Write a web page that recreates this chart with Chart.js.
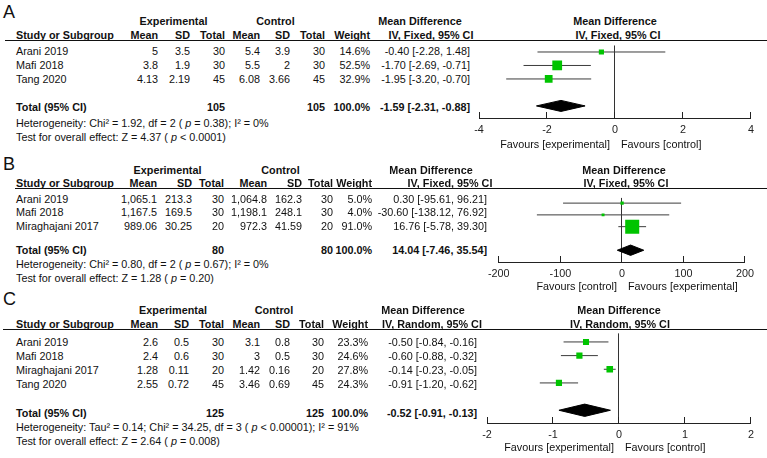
<!DOCTYPE html>
<html><head><meta charset="utf-8">
<script src="https://cdn.jsdelivr.net/npm/chart.js@4.4.0/dist/chart.umd.min.js"></script>
<style>
html,body{margin:0;padding:0;background:#fff;overflow:hidden;}
#fig{position:relative;width:767px;height:458px;font-family:"Liberation Sans",Arial,sans-serif;color:#111;}
.t{position:absolute;white-space:nowrap;font-size:10.8px;line-height:10.8px;}
.b{font-weight:bold;}
.hl{position:absolute;height:1px;background:#111;}
canvas{position:absolute;}
</style></head><body><div id="fig"></div>
<script>
// ---------- DATA ----------
// Panel A
const studiesA = ['Arani 2019', 'Mafi 2018', 'Tang 2020'];
const expMeanA = [5, 3.8, 4.13];
const expSDA = [3.5, 1.9, 2.19];
const expNA = [30, 30, 45];
const ctlMeanA = [5.4, 5.5, 6.08];
const ctlSDA = [3.9, 2, 3.66];
const ctlNA = [30, 30, 45];
const weightA = [14.6, 52.5, 32.9];
const mdA = [-0.40, -1.70, -1.95];
const loA = [-2.28, -2.69, -3.20];
const hiA = [1.48, -0.71, -0.70];
const totalA = [-1.59, -2.31, -0.88];
const totalNA = [105, 105];
const ticksA = [-4, -2, 0, 2, 4];
const hetA = 'Heterogeneity: Chi² = 1.92, df = 2 ( <i>p</i> = 0.38); I² = 0%';
const testA = 'Test for overall effect: Z = 4.37 ( <i>p</i> &lt; 0.0001)';
const methodA = 'IV, Fixed, 95% CI';
const favA = ['Favours [experimental]', 'Favours [control]'];

// Panel B
const studiesB = ['Arani 2019', 'Mafi 2018', 'Miraghajani 2017'];
const expMeanB = [1065.1, 1167.5, 989.06];
const expSDB = [213.3, 169.5, 30.25];
const expNB = [30, 30, 20];
const ctlMeanB = [1064.8, 1198.1, 972.3];
const ctlSDB = [162.3, 248.1, 41.59];
const ctlNB = [30, 30, 20];
const weightB = [5.0, 4.0, 91.0];
const mdB = [0.30, -30.60, 16.76];
const loB = [-95.61, -138.12, -5.78];
const hiB = [96.21, 76.92, 39.30];
const totalB = [14.04, -7.46, 35.54];
const totalNB = [80, 80];
const ticksB = [-200, -100, 0, 100, 200];
const hetB = 'Heterogeneity: Chi² = 0.80, df = 2 ( <i>p</i> = 0.67); I² = 0%';
const testB = 'Test for overall effect: Z = 1.28 ( <i>p</i> = 0.20)';
const methodB = 'IV, Fixed, 95% CI';
const favB = ['Favours [control]', 'Favours [experimental]'];

// Panel C
const studiesC = ['Arani 2019', 'Mafi 2018', 'Miraghajani 2017', 'Tang 2020'];
const expMeanC = [2.6, 2.4, 1.28, 2.55];
const expSDC = [0.5, 0.6, 0.11, 0.72];
const expNC = [30, 30, 20, 45];
const ctlMeanC = [3.1, 3, 1.42, 3.46];
const ctlSDC = [0.8, 0.5, 0.16, 0.69];
const ctlNC = [30, 30, 20, 45];
const weightC = [23.3, 24.6, 27.8, 24.3];
const mdC = [-0.50, -0.60, -0.14, -0.91];
const loC = [-0.84, -0.88, -0.23, -1.20];
const hiC = [-0.16, -0.32, -0.05, -0.62];
const totalC = [-0.52, -0.91, -0.13];
const totalNC = [125, 125];
const ticksC = [-2, -1, 0, 1, 2];
const hetC = 'Heterogeneity: Tau² = 0.14; Chi² = 34.25, df = 3 ( <i>p</i> &lt; 0.00001); I² = 91%';
const testC = 'Test for overall effect: Z = 2.64 ( <i>p</i> = 0.008)';
const methodC = 'IV, Random, 95% CI';
const favC = ['Favours [experimental]', 'Favours [control]'];

// ---------- HELPERS ----------
const fig = document.getElementById('fig');
function txt(x, y, s, align, bold, size) {
  const fs = size || 10.8;
  const d = document.createElement('div');
  d.className = 't' + (bold ? ' b' : '');
  d.innerHTML = s;
  d.style.fontSize = fs + 'px';
  d.style.lineHeight = fs + 'px';
  d.style.top = (y - fs / 2) + 'px';
  d.style.left = x + 'px';
  if (align === 'r') d.style.transform = 'translateX(-100%)';
  else if (align === 'c') d.style.transform = 'translateX(-50%)';
  fig.appendChild(d);
}
function hline(x0, y, x1) {
  const d = document.createElement('div');
  d.className = 'hl';
  d.style.left = x0 + 'px'; d.style.top = y + 'px'; d.style.width = (x1 - x0) + 'px';
  fig.appendChild(d);
}
const fmt = v => v.toLocaleString('en-US', { maximumFractionDigits: 2 });
const pct = v => v.toFixed(1) + '%';
const ci = (m, l, h) => `${m.toFixed(2)} [${l.toFixed(2)}, ${h.toFixed(2)}]`;

function panel(letter, D, L) {
  txt(3, L.letterY, letter, 'l', false, 18);
  txt(L.expC, L.grpY, 'Experimental', 'c', true);
  txt(L.ctlC, L.grpY, 'Control', 'c', true);
  txt(L.mdHC, L.grpY, 'Mean Difference', 'c', true);
  txt(L.plotMdC, L.grpY, 'Mean Difference', 'c', true);
  txt(16, L.hdrY, 'Study or Subgroup', 'l', true);
  const hdrs = ['Mean', 'SD', 'Total', 'Mean', 'SD', 'Total', 'Weight'];
  hdrs.forEach((h, i) => txt(L.cols[i], L.hdrY, h, 'r', true));
  txt(L.ivHC, L.hdrY, D.method, 'c', true);
  txt(L.plotIvC, L.hdrY, D.method, 'c', true);
  hline(L.lineX0, L.lineY, 767);
  D.studies.forEach((s, i) => {
    const y = L.rowsY[i];
    txt(16, y, s, 'l');
    const vals = [fmt(D.em[i]), fmt(D.esd[i]), String(D.en[i]), fmt(D.cm[i]), fmt(D.csd[i]), String(D.cn[i]), pct(D.w[i])];
    vals.forEach((v, j) => txt(L.cols[j], y, v, 'r'));
    txt(L.mdR, y, ci(D.md[i], D.lo[i], D.hi[i]), 'r');
  });
  txt(16, L.totY, 'Total (95% CI)', 'l', true);
  txt(L.cols[2], L.totY, String(D.totN[0]), 'r', true);
  txt(L.cols[5], L.totY, String(D.totN[1]), 'r', true);
  txt(L.cols[6], L.totY, pct(D.w.reduce((a, b) => a + b, 0)), 'r', true);
  txt(L.mdR, L.totY, ci(D.tot[0], D.tot[1], D.tot[2]), 'r', true);
  txt(16, L.hetY, D.het, 'l');
  txt(16, L.testY, D.test, 'l');

  // chart
  const cv = document.createElement('canvas');
  cv.width = L.cw; cv.height = L.ch;
  cv.style.left = L.cx + 'px'; cv.style.top = L.cy + 'px';
  fig.appendChild(cv);
  const ds = [];
  D.md.forEach((m, i) => {
    ds.push({ type: 'line', data: [{ x: D.lo[i], y: i + 1 }, { x: D.hi[i], y: i + 1 }],
      borderColor: '#3c3c3c', borderWidth: 1, pointRadius: 0, fill: false, order: 2 });
  });
  ds.push({ type: 'line', showLine: false, data: D.md.map((m, i) => ({ x: m, y: i + 1 })),
    pointStyle: 'rect', pointRadius: D.w.map(w => L.sq * Math.sqrt(w) / 1.414),
    pointBackgroundColor: '#00c400', pointBorderColor: '#00c400', pointBorderWidth: 0, order: 1 });
  const tr = D.md.length + 2;
  ds.push({ type: 'line', data: [
      { x: D.tot[1], y: tr }, { x: D.tot[0], y: tr - L.dh }, { x: D.tot[2], y: tr },
      { x: D.tot[0], y: tr + L.dh }, { x: D.tot[1], y: tr }],
    fill: 'shape', backgroundColor: '#000', borderColor: '#000', borderWidth: 1, pointRadius: 0, order: 0 });
  const ticks = D.ticks;
  const chart = new Chart(cv, {
    type: 'line',
    data: { datasets: ds },
    options: {
      responsive: false, animation: false, devicePixelRatio: 1,
      layout: { padding: { left: 20, right: L.padR, top: 0, bottom: 0 } },
      plugins: { legend: { display: false }, tooltip: { enabled: false } },
      events: [],
      scales: {
        x: {
          type: 'linear', min: ticks[0], max: ticks[ticks.length - 1],
          afterBuildTicks: s => { s.ticks = ticks.map(v => ({ value: v })); },
          afterFit: s => { s.height = 30; },
          grid: { color: c => (c.tick && c.tick.value === 0) ? '#333' : 'rgba(0,0,0,0)',
                  tickColor: '#222', tickLength: -6, drawTicks: true, lineWidth: 1 },
          border: { display: true, color: '#222', width: 1 },
          ticks: { padding: 12, color: '#222', maxRotation: 0, autoSkip: false,
                   font: { family: '"Liberation Sans", Arial, sans-serif', size: 10.8 } }
        },
        y: { type: 'linear', display: false, reverse: true, min: L.ymin, max: L.ymax }
      }
    }
  });
  const z = L.cx + chart.scales.x.getPixelForValue(0);
  txt(z - 5, L.favY, D.fav[0], 'r');
  txt(z + 6, L.favY, D.fav[1], 'l');
}

panel('A', { studies: studiesA, em: expMeanA, esd: expSDA, en: expNA, cm: ctlMeanA, csd: ctlSDA, cn: ctlNA,
  w: weightA, md: mdA, lo: loA, hi: hiA, tot: totalA, totN: totalNA, ticks: ticksA, het: hetA, test: testA,
  method: methodA, fav: favA },
  { letterY: 11.5, grpY: 21, hdrY: 35, lineY: 40, lineX0: 5, rowsY: [51, 65, 79], totY: 107, hetY: 123, testY: 137,
    cols: [158, 190, 225, 260, 290, 325, 370], mdR: 470, expC: 173.5, ctlC: 275.5, mdHC: 420, ivHC: 431,
    plotMdC: 615, plotIvC: 618, cx: 459, cy: 40, cw: 307, ch: 108, padR: 14,
    ymin: 0.517, ymax: 5.896, dh: 0.41, sq: 1.35, favY: 144 });

panel('B', { studies: studiesB, em: expMeanB, esd: expSDB, en: expNB, cm: ctlMeanB, csd: ctlSDB, cn: ctlNB,
  w: weightB, md: mdB, lo: loB, hi: hiB, tot: totalB, totN: totalNB, ticks: ticksB, het: hetB, test: testB,
  method: methodB, fav: favB },
  { letterY: 163.5, grpY: 170, hdrY: 183, lineY: 188, lineX0: 15, rowsY: [199, 212.5, 226], totY: 250, hetY: 264, testY: 278,
    cols: [157, 192, 224, 267, 302, 333, 372], mdR: 487, expC: 167.5, ctlC: 280.5, mdHC: 431, ivHC: 450,
    plotMdC: 624, plotIvC: 626, cx: 476, cy: 188, cw: 290, ch: 104, padR: 13,
    ymin: 0.559, ymax: 6.0, dh: 0.44, sq: 1.47, favY: 286 });

panel('C', { studies: studiesC, em: expMeanC, esd: expSDC, en: expNC, cm: ctlMeanC, csd: ctlSDC, cn: ctlNC,
  w: weightC, md: mdC, lo: loC, hi: hiC, tot: totalC, totN: totalNC, ticks: ticksC, het: hetC, test: testC,
  method: methodC, fav: favC },
  { letterY: 299, grpY: 310, hdrY: 324.5, lineY: 329, lineX0: 3, rowsY: [342, 356, 370, 384], totY: 413, hetY: 427, testY: 441,
    cols: [158, 189, 224, 260, 290, 324, 368], mdR: 477, expC: 173, ctlC: 274, mdHC: 423, ivHC: 432,
    plotMdC: 619, plotIvC: 620, cx: 467, cy: 329, cw: 299, ch: 124, padR: 14,
    ymin: 0.372, ymax: 6.932, dh: 0.45, sq: 1.25, favY: 447 });
</script>
</body></html>
